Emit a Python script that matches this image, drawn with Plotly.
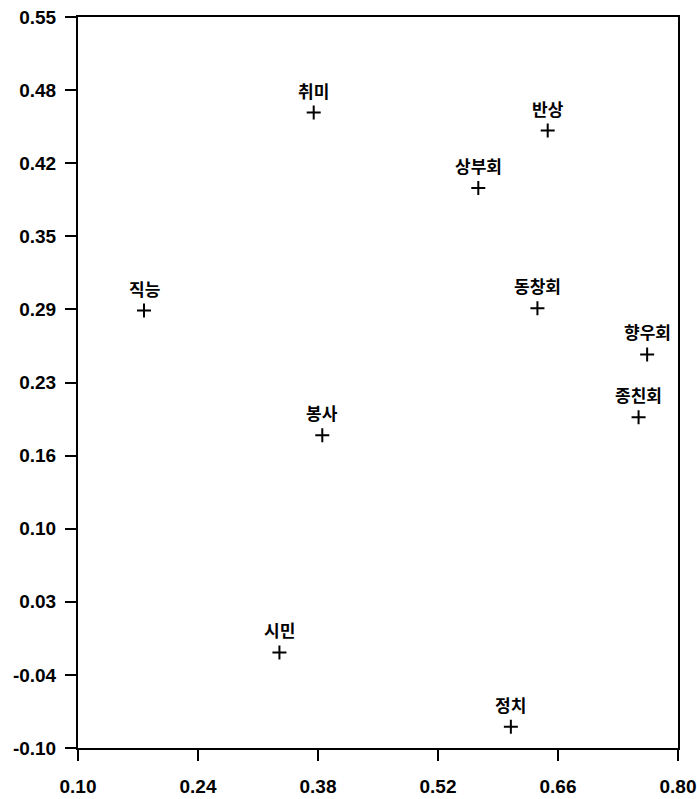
import plotly.graph_objects as go

labels = ["취미", "반상", "상부회", "직능", "동창회", "향우회", "종친회", "봉사", "시민", "정치"]
x_vals = [0.375, 0.648, 0.567, 0.177, 0.636, 0.764, 0.754, 0.385, 0.335, 0.605]
y_vals = [0.465, 0.449, 0.398, 0.289, 0.291, 0.250, 0.194, 0.178, -0.015, -0.081]

x_ticks = [0.10, 0.24, 0.38, 0.52, 0.66, 0.80]
x_ticktext = ["0.10", "0.24", "0.38", "0.52", "0.66", "0.80"]
y_ticks = [0.55, 0.485, 0.42, 0.355, 0.29, 0.225, 0.16, 0.095, 0.03, -0.035, -0.10]
y_ticktext = ["0.55", "0.48", "0.42", "0.35", "0.29", "0.23", "0.16", "0.10", "0.03", "-0.04", "-0.10"]

fig = go.Figure()
fig.add_trace(go.Scatter(
    x=x_vals, y=y_vals, mode="markers",
    marker=dict(symbol="cross-thin", size=10, line=dict(width=2, color="black"), color="black"),
    showlegend=False, cliponaxis=False,
))
for xv, yv, lab in zip(x_vals, y_vals, labels):
    fig.add_annotation(
        x=xv, y=yv, text=lab, showarrow=False, xanchor="center", yanchor="bottom",
        yshift=8, font=dict(family="Noto Sans CJK KR", size=17, color="black", weight=600),
    )

axis_common = dict(
    showgrid=False, zeroline=False, showline=True, linecolor="black", linewidth=2,
    mirror=True, ticks="outside", tickcolor="black", tickwidth=2, automargin=False,
    tickfont=dict(family="Liberation Sans", size=19, color="black", weight="bold"),
)
fig.update_xaxes(range=[0.10, 0.80], tickvals=x_ticks, ticktext=x_ticktext,
                 ticklen=11, ticklabelstandoff=9, **axis_common)
fig.update_yaxes(range=[-0.10, 0.55], tickvals=y_ticks, ticktext=y_ticktext,
                 ticklen=11, ticklabelstandoff=5, **axis_common)
fig.update_layout(
    width=697, height=799,
    margin=dict(l=78, r=19, t=17, b=51),
    plot_bgcolor="white", paper_bgcolor="white",
)
fig.write_html(
    "out.html",
    config={"displayModeBar": False},
    post_script="document.body.style.margin='0';document.body.style.overflow='hidden';",
)
